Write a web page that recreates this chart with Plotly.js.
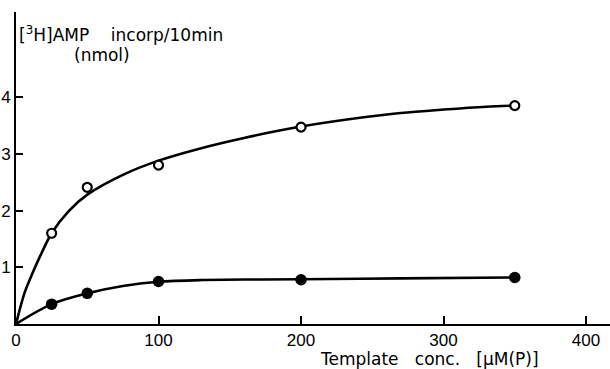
<!DOCTYPE html>
<html>
<head>
<meta charset="utf-8">
<script src="https://cdn.plot.ly/plotly-3.0.1.min.js"></script>
<style>
  html, body { margin: 0; padding: 0; background: #fff; }
  #chart { width: 610px; height: 369px; }
</style>
</head>
<body>
<div id="chart"></div>
<script>
// Template concentration (µM nucleotide phosphate) for the measured points
const templateConc = [25, 50, 100, 200, 350];
// [3H]AMP incorporated in 10 min (nmol)
const openSeries = [1.6, 2.41, 2.8, 3.47, 3.85];
const filledSeries = [0.35, 0.54, 0.75, 0.78, 0.82];

// Hand-fitted saturation curves drawn through each series
const openCurveX = [0, 6, 12, 17, 25, 37, 50, 75, 100, 130, 160, 200, 240, 270, 300, 330, 350];
const openCurveY = [0, 0.55, 0.92, 1.2, 1.6, 1.99, 2.28, 2.63, 2.88, 3.1, 3.28, 3.48, 3.63, 3.72, 3.78, 3.83, 3.85];
const filledCurveX = [0, 25, 50, 75, 100, 130, 170, 200, 270, 350];
const filledCurveY = [0, 0.35, 0.54, 0.67, 0.745, 0.775, 0.785, 0.79, 0.805, 0.82];

// Axis ticks
const xTicks = [0, 100, 200, 300, 400];
const xTickText = ['0', '100', '200', '300', '400'];
const yTicks = [1, 2, 3, 4];
const yTickText = ['1', '2', '3', '4'];

const ink = '#000';
const tickFont = { family: 'Liberation Sans, Arial, sans-serif', size: 17, color: ink };
const titleFont = { family: 'DejaVu Sans, sans-serif', size: 17, color: ink };

const traces = [
  { x: openCurveX, y: openCurveY, mode: 'lines', line: { color: ink, width: 2.6, shape: 'spline', smoothing: 0.9 }, hoverinfo: 'skip' },
  { x: filledCurveX, y: filledCurveY, mode: 'lines', line: { color: ink, width: 2.6, shape: 'spline', smoothing: 0.9 }, hoverinfo: 'skip' },
  { x: templateConc, y: openSeries, mode: 'markers', cliponaxis: false,
    marker: { symbol: 'circle', size: 9, color: '#fff', line: { color: ink, width: 2.2 } } },
  { x: templateConc, y: filledSeries, mode: 'markers', cliponaxis: false,
    marker: { symbol: 'circle', size: 11.5, color: ink, line: { width: 0 } } }
];

const nb = '\u00A0';
const layout = {
  width: 610,
  height: 369,
  margin: { l: 16, r: 0, t: 12, b: 45, pad: 0 },
  paper_bgcolor: '#fff',
  plot_bgcolor: '#fff',
  showlegend: false,
  xaxis: {
    range: [0, 416.8],
    showline: true, linecolor: ink, linewidth: 2,
    ticks: 'inside', ticklen: 8, tickwidth: 2, tickcolor: ink,
    tickvals: xTicks, ticktext: xTickText, tickfont: tickFont,
    showgrid: false, zeroline: false, fixedrange: true
  },
  yaxis: {
    range: [0, 5.5],
    showline: true, linecolor: ink, linewidth: 2,
    ticks: 'inside', ticklen: 7, tickwidth: 2, tickcolor: ink,
    tickvals: yTicks, ticktext: yTickText, tickfont: tickFont,
    showgrid: false, zeroline: false, fixedrange: true
  },
  annotations: [
    { xref: 'paper', yref: 'paper', x: 0.002, y: 0.929, xanchor: 'left', yanchor: 'middle',
      showarrow: false, font: titleFont,
      text: '[<sup>3</sup>H]AMP' + nb + nb + nb + nb + 'incorp/10min' },
    { xref: 'paper', yref: 'paper', x: 0.094, y: 0.862, xanchor: 'left', yanchor: 'middle',
      showarrow: false, font: titleFont, text: '(nmol)' },
    { xref: 'paper', yref: 'paper', x: 0.508, y: -0.112, xanchor: 'left', yanchor: 'middle',
      showarrow: false, font: titleFont,
      text: 'Template' + nb + nb + nb + 'conc.' + nb + nb + nb + '[µM(P)]' }
  ]
};

Plotly.newPlot('chart', traces, layout, { displayModeBar: false, staticPlot: true });
</script>
</body>
</html>
